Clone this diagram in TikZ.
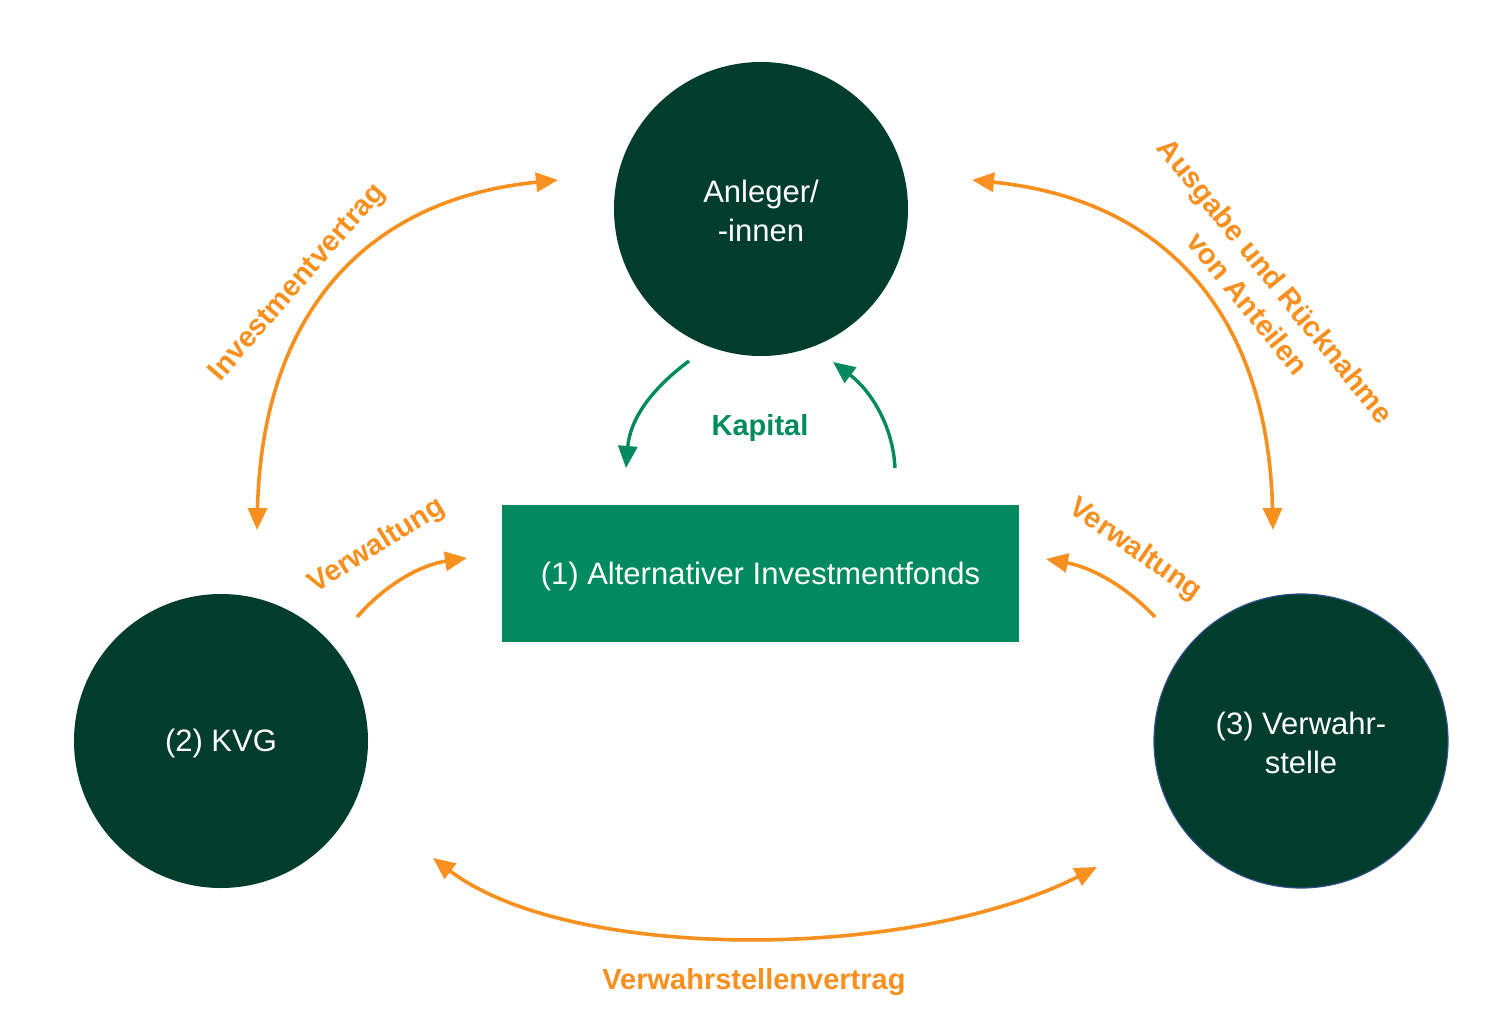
\documentclass[tikz,border=0pt]{standalone}
\usepackage{fontspec}
\setmainfont{Liberation Sans}
\usetikzlibrary{arrows.meta}
\definecolor{dkgreen}{HTML}{003D2C}
\definecolor{fgreen}{HTML}{008A5E}
\definecolor{orng}{HTML}{F7901E}
\definecolor{bdblue}{HTML}{2F4F8F}
\begin{document}
\begin{tikzpicture}[x=1pt,y=-1pt,
  party/.style={circle,fill=dkgreen,minimum size=294pt,inner sep=0pt,text=white,align=center,font=\fontsize{31}{39}\selectfont},
  fund/.style={rectangle,fill=fgreen,minimum width=517pt,minimum height=137pt,inner sep=0pt,text=white,font=\fontsize{31}{39}\selectfont},
  oarrow/.style={draw=orng,line width=3.6pt,-{Triangle[length=22pt,width=19pt]}},
  oboth/.style={draw=orng,line width=3.6pt,{Triangle[length=22pt,width=19pt]}-{Triangle[length=22pt,width=19pt]}},
  garrow/.style={draw=fgreen,line width=3.4pt,-{Triangle[length=22pt,width=19pt]}},
  olabel/.style={text=orng,font=\bfseries\fontsize{29}{36}\selectfont,align=center,inner sep=0pt},
  glabel/.style={text=fgreen,font=\bfseries\fontsize{29}{36}\selectfont,inner sep=0pt}]
\useasboundingbox (0,0) rectangle (1510,1014);
\fill[white] (0,0) rectangle (1510,1014);

\node[party] (anl) at (761,209) {};
\node[party] (kvg) at (221,741) {};
\node[party,draw=bdblue,line width=1.2pt] (vs) at (1301,741) {};
\node[fund] (aif) at (760.5,573.5) {};
\node[text=white,align=center,font=\fontsize{31}{39}\selectfont] (tanl) at (761,211) {Anleger/\\-innen};
\node[text=white,font=\fontsize{31}{39}\selectfont] (tkvg) at (221,743) {(2) KVG};
\node[text=white,align=center,font=\fontsize{31}{39}\selectfont] (tvs) at (1301,743) {(3) Verwahr-\\stelle};
\node[text=white,font=\fontsize{31}{39}\selectfont] (taif) at (760.5,576) {(1) Alternativer Investmentfonds};

% coordinates of arrow ends
\coordinate (iv1) at (257,530);
\coordinate (iv2) at (558,180);
\coordinate (au1) at (972,180);
\coordinate (au2) at (1273,530);
\coordinate (vv1) at (433,858);
\coordinate (vv2) at (1097,867);
\coordinate (k1s) at (689,361);
\coordinate (k1e) at (626,468);
\coordinate (k2s) at (895,468);
\coordinate (k2e) at (833,362);
\coordinate (w1s) at (357,617);
\coordinate (w1e) at (467,558);
\coordinate (w2s) at (1155,617);
\coordinate (w2e) at (1046,559);

\draw[oboth] (iv1) .. controls (262,320) and (360,200) .. (iv2);
\draw[oboth] (au1) .. controls (1170,200) and (1268,320) .. (au2);
\draw[oboth] (vv1) .. controls (570,962) and (910,962) .. (vv2);
\draw[garrow] (k1s) .. controls (650,390) and (630,420) .. (k1e);
\draw[garrow] (k2s) .. controls (893,425) and (870,390) .. (k2e);
\draw[oarrow] (w1s) .. controls (385,585) and (420,565) .. (w1e);
\draw[oarrow] (w2s) .. controls (1125,585) and (1090,567) .. (w2e);

\node[olabel,rotate=49] (livv) at (298,283) {Investmentvertrag};
\node[olabel,rotate=-51] (lau) at (1262,292) {Ausgabe und Rücknahme\\von Anteilen};
\node[olabel,rotate=32] (lw1) at (377,546) {Verwaltung};
\node[olabel,rotate=-35] (lw2) at (1135,550) {Verwaltung};
\node[glabel] (lk) at (760,428) {Kapital};
\node[olabel] (lvv) at (754,982) {Verwahrstellenvertrag};
\end{tikzpicture}
\end{document}
